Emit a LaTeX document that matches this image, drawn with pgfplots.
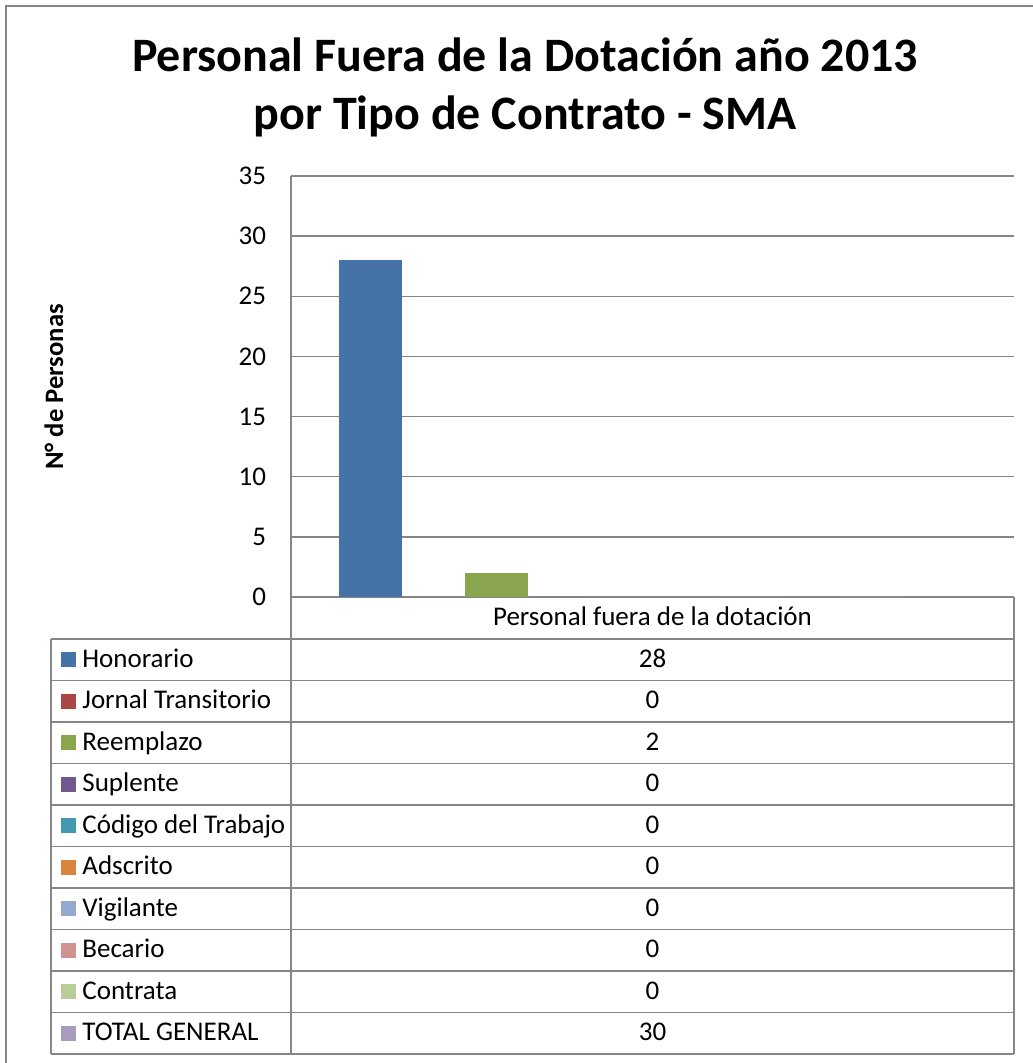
\documentclass[border=0pt]{standalone}
\usepackage{fontspec}
\setmainfont{Carlito}
\usepackage{pgfplots}
\pgfplotsset{compat=1.18}
\definecolor{gridgray}{HTML}{868686}
\definecolor{cA}{HTML}{4572A7}
\definecolor{cB}{HTML}{AA4643}
\definecolor{cC}{HTML}{89A54E}
\definecolor{cD}{HTML}{71588F}
\definecolor{cE}{HTML}{4198AF}
\definecolor{cF}{HTML}{DB843D}
\definecolor{cG}{HTML}{93A9CF}
\definecolor{cH}{HTML}{D19392}
\definecolor{cI}{HTML}{B9CD96}
\definecolor{cJ}{HTML}{A99BBD}
\begin{document}
\begin{tikzpicture}
\useasboundingbox (0,0) rectangle (516pt,531.5pt);
\begin{axis}[
  at={(145.5pt,233pt)}, anchor=south west,
  scale only axis, width=361.5pt, height=210.5pt,
  xmin=-0.5, xmax=0.5, ymin=0, ymax=35,
  ytick={0,5,...,35}, xtick=\empty,
  axis lines*=left,
  axis line style={draw=gridgray, line width=0.75pt},
  ymajorgrids, grid style={draw=gridgray, line width=0.75pt},
  major tick length=0pt,
  yticklabel style={font=\fontsize{13.5}{15}\selectfont, xshift=-9pt},
  /pgf/number format/assume math mode=true,
  ybar, bar width=31.5pt,
  every axis plot/.append style={draw=none},
  clip=false,
]
\addplot[fill=cA, bar shift=-141pt] coordinates {(0,28)};
\addplot[fill=cB, bar shift=-109.5pt] coordinates {(0,0)};
\addplot[fill=cC, bar shift=-78pt] coordinates {(0,2)};
\addplot[fill=cD, bar shift=-46.5pt] coordinates {(0,0)};
\addplot[fill=cE, bar shift=-15pt] coordinates {(0,0)};
\addplot[fill=cF, bar shift=16.5pt] coordinates {(0,0)};
\addplot[fill=cG, bar shift=48pt] coordinates {(0,0)};
\addplot[fill=cH, bar shift=79.5pt] coordinates {(0,0)};
\addplot[fill=cI, bar shift=111pt] coordinates {(0,0)};
\end{axis}
\begin{scope}[x=0.5pt, y=-0.5pt, shift={(0,531.5pt)}]
  % outer frame
  \draw[gridgray, line width=0.75pt] (6,1080) -- (6,6) -- (1040,6);
  % title
  \node[anchor=base, inner sep=0pt, font=\fontsize{24}{29}\selectfont\bfseries] at (525,72)
    {Personal Fuera de la Dotación año 2013};
  \node[anchor=base, inner sep=0pt, font=\fontsize{24}{29}\selectfont\bfseries] at (525,130)
    {por Tipo de Contrato - SMA};
  % y label
  \node[rotate=90, font=\fontsize{13.3}{15}\selectfont\bfseries] at (54,387) {N° de Personas};
  % table grid
  \begin{scope}[gridgray, line width=0.75pt]
    \draw (291,597) -- (291,1054);
    \draw (1014,597) -- (1014,1054);
    \draw (51,639) -- (51,1054);
    \foreach \k in {0,...,10} {
      \draw (51,639+41.5*\k) -- (1014,639+41.5*\k);
    }
  \end{scope}
  \node[anchor=base, inner sep=0pt, font=\fontsize{13.5}{15}\selectfont] at (652.5,626) {Personal fuera de la dotación};
  \foreach \lab/\val/\col [count=\i from 0] in {
      Honorario/28/cA, Jornal Transitorio/0/cB, Reemplazo/2/cC, Suplente/0/cD,
      Código del Trabajo/0/cE, Adscrito/0/cF, Vigilante/0/cG, Becario/0/cH,
      Contrata/0/cI, TOTAL GENERAL/30/cJ} {
    \pgfmathsetmacro{\yc}{659.75+41.5*\i}
    \fill[\col] (61,\yc-7.5) rectangle (76,\yc+7.5);
    \node[anchor=base west, inner sep=0pt, font=\fontsize{13.5}{15}\selectfont] at (82,\yc+7.5) {\lab};
    \node[anchor=base, inner sep=0pt, font=\fontsize{13.5}{15}\selectfont] at (652.5,\yc+7.5) {\val};
  }
\end{scope}
\end{tikzpicture}
\end{document}
